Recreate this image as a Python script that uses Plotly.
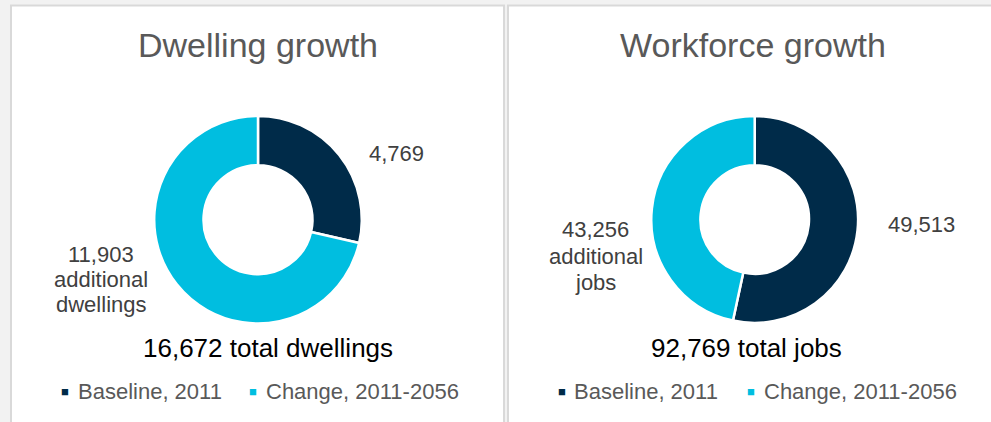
import plotly.graph_objects as go

W, H = 991, 422

# ---- data ----
categories = ["Baseline, 2011", "Change, 2011-2056"]
dwelling_values = [4769, 11903]
workforce_values = [49513, 43256]
panel_titles = ["Dwelling growth", "Workforce growth"]
total_units = ["total dwellings", "total jobs"]
change_units = ["dwellings", "jobs"]
colors = ["#002B49", "#00BEE0"]

FONT = "Liberation Sans, Arial, sans-serif"


def fx(x):
    return x / W


def fy(y):
    return 1 - y / H


fig = go.Figure()

# pies: (center x, center y, radius) in pixels
geoms = [(258, 219.7, 103.8), (754.7, 219.5, 103.4)]
for vals, (cx, cy, r) in zip([dwelling_values, workforce_values], geoms):
    fig.add_trace(go.Pie(
        labels=categories,
        values=vals,
        hole=0.525,
        sort=False,
        direction="clockwise",
        rotation=0,
        marker=dict(colors=colors, line=dict(color="white", width=2.5)),
        textinfo="none",
        hoverinfo="label+value",
        showlegend=False,
        domain=dict(x=[fx(cx - r), fx(cx + r)], y=[fy(cy + r), fy(cy - r)]),
    ))

# panel backgrounds
shapes = [
    dict(type="rect", xref="paper", yref="paper",
         x0=fx(11), x1=fx(504), y0=fy(440), y1=fy(5.5),
         fillcolor="white", line=dict(color="#D9D9D9", width=2), layer="below"),
    dict(type="rect", xref="paper", yref="paper",
         x0=fx(508), x1=fx(1010), y0=fy(440), y1=fy(5.5),
         fillcolor="white", line=dict(color="#D9D9D9", width=2), layer="below"),
]

ann = []


def add_text(text, x, y, size, color, xanchor="center"):
    ann.append(dict(text=text, x=fx(x), y=fy(y), xref="paper", yref="paper",
                    xanchor=xanchor, yanchor="middle", showarrow=False,
                    font=dict(family=FONT, size=size, color=color)))


# titles
add_text(panel_titles[0], 257.5, 44.5, 34, "#595959")
add_text(panel_titles[1], 753, 45, 34, "#595959")

# totals
add_text(f"{sum(dwelling_values):,} {total_units[0]}", 268, 348, 26, "#000000")
add_text(f"{sum(workforce_values):,} {total_units[1]}", 746, 348, 26, "#000000")

# data labels
add_text(f"{dwelling_values[0]:,}", 396, 153.5, 22, "#404040")
for i, line in enumerate([f"{dwelling_values[1]:,}", "additional", change_units[0]]):
    add_text(line, 101, 254 + 25 * i, 22, "#404040")
add_text(f"{workforce_values[0]:,}", 921, 224.5, 22, "#404040")
for i, line in enumerate([f"{workforce_values[1]:,}", "additional", change_units[1]]):
    add_text(line, 595.5, 230 + 26 * i, 22, "#404040")

# legends (square marker + text)
legend_pos = [((65.3, 75.5), (253, 263.5)), ((562, 572), (751.3, 761.5))]
for panel in legend_pos:
    for k, (sqx, tx) in enumerate(panel):
        add_text("■", sqx, 391.3, 13, colors[k])
        add_text(categories[k], tx, 391.3, 22, "#595959", xanchor="left")

fig.update_layout(
    width=W, height=H,
    margin=dict(l=0, r=0, t=0, b=0),
    paper_bgcolor="#F2F2F2",
    plot_bgcolor="#F2F2F2",
    shapes=shapes,
    annotations=ann,
    showlegend=False,
)

fig.write_html("out.html")
